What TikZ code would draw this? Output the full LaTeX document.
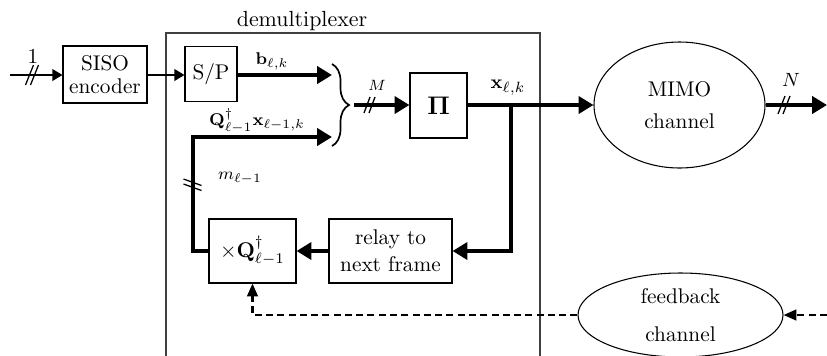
\documentclass[tikz,border=0pt]{standalone}
\usepackage{amsmath}
\usetikzlibrary{arrows.meta,shapes.geometric,decorations.pathreplacing}
\begin{document}
\begin{tikzpicture}[x=0.47pt,y=-0.47pt,
  blk/.style={draw,line width=0.5pt,inner sep=0pt,align=center},
  ell/.style={draw,ellipse,line width=0.5pt,inner sep=0pt,align=center},
  thin/.style={line width=0.6pt,-{Triangle[length=4.7pt,width=5.5pt]}},
  thk/.style={line width=1.9pt,-{Triangle[length=7pt,width=8pt]}},
  dsh/.style={line width=1pt,dash pattern=on 3.3pt off 2pt,-{Triangle[length=6pt,width=5pt]}},
  slashmark/.style={line width=0.6pt},
  lbl/.style={inner sep=0pt}]
\useasboundingbox (0,0) rectangle (827,355);
% demultiplexer frame
\draw[line width=0.6pt,black!75] (166,360) -- (166,33) -- (540,33) -- (540,360);
\node[lbl,font=\fontsize{10.3}{12}\selectfont] (demuxlbl) at (302,21) {demultiplexer};
% blocks
\node[blk,minimum width=84*0.47pt,minimum height=57*0.47pt] (siso) at (105,74.5) {SISO\\[-1pt]encoder};
\node[blk,minimum width=52*0.47pt,minimum height=55*0.47pt] (sp) at (211,74) {S/P};
\node[blk,minimum width=57*0.47pt,minimum height=65*0.47pt,font=\fontsize{11.5}{13}\selectfont] (pi) at (438.5,105.5) {$\mathbf{\Pi}$};
\node[ell,minimum width=171*0.47pt,minimum height=126*0.47pt] (mimo) at (679.5,105) {MIMO\\[3pt]channel};
\node[blk,minimum width=123*0.47pt,minimum height=64*0.47pt] (relay) at (390.5,251) {relay to\\[0.5pt]next frame};
\node[blk,minimum width=87*0.47pt,minimum height=64*0.47pt] (xq) at (252.5,251) {$\times\mathbf{Q}_{\ell-1}^{\dagger}$};
\node[ell,minimum width=205*0.47pt,minimum height=84*0.47pt] (fb) at (680.5,315) {feedback\\[6pt]channel};
% coordinates
\coordinate (in) at (10,75);
\coordinate (bend) at (332,75);
\coordinate (qend) at (332,137);
\coordinate (qcorner) at (193,250);
\coordinate (brtip) at (354,105);
\coordinate (split) at (511,105);
\coordinate (out) at (827,105);
\coordinate (fbin) at (827,315);
% input
\draw[thin] (in) -- (siso.west |- in);
\node[lbl] (one) at (33,56) {1};
\draw[slashmark] (25.5,85) -- (33.5,65) (30.5,85) -- (38.5,65);
\draw[thin] (siso.east |- in) -- (sp.west |- in);
% b arrow
\draw[thk] (sp.east |- bend) -- (bend);
\node[lbl] (blbl) at (272,61) {\fontsize{8}{9}\selectfont$\mathbf{b}_{\ell,k}$};
% Q feedback arrow
\draw[thk] (xq.west) -- (qcorner |- xq.west) |- (qend);
\node[lbl] (qlbl) at (257,121) {\fontsize{8}{9}\selectfont$\mathbf{Q}_{\ell-1}^{\dagger}\mathbf{x}_{\ell-1,k}$};
\draw[slashmark] (183.5,179) -- (201.5,185.5) (183.5,184) -- (201.5,190.5);
\node[lbl] (mlbl) at (240,178) {\footnotesize$m_{\ell-1}$};
% brace
\draw[line width=0.8pt,decorate,decoration={brace,amplitude=8pt}] (332,64) -- (332,146);
% M arrow
\draw[thk] (brtip) -- (pi.west |- brtip);
\node[lbl] (Mlbl) at (377,85) {\fontsize{7}{8}\selectfont$M$};
\draw[slashmark] (364,113) -- (370,97) (369,113) -- (375,97);
% x arrow
\draw[thk] (pi.east |- split) -- (mimo.west);
\node[lbl] (xlbl) at (508,88) {\fontsize{9.5}{10}\selectfont$\mathbf{x}_{\ell,k}$};
\draw[thk] (split) |- (relay.east);
\draw[thk] (relay.west) -- (xq.east);
% output
\draw[thk] (mimo.east) -- (out);
\node[lbl] (Nlbl) at (791,80) {\fontsize{9.5}{10}\selectfont$N$};
\draw[slashmark] (778,114) -- (785,96) (783,114) -- (790,96);
% feedback dashed
\draw[dsh] (fbin) -- (fb.east);
\draw[dsh] (fb.west) -| (xq.south);
\end{tikzpicture}
\end{document}
